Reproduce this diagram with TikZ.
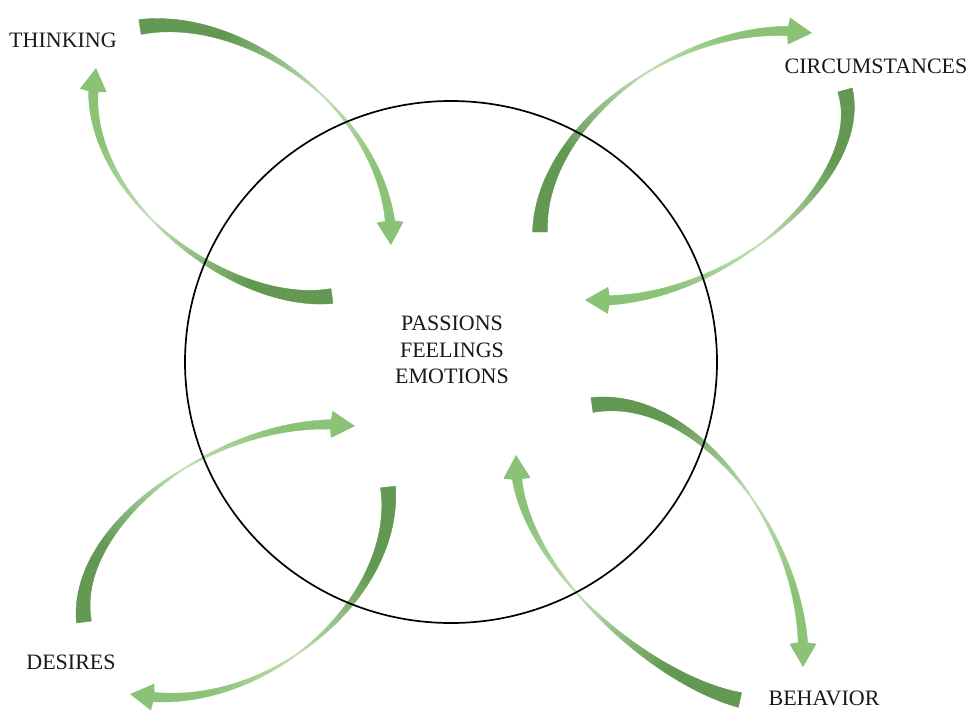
\documentclass[tikz,border=0pt]{standalone}
\usepackage{fontspec}
\setmainfont{Liberation Serif}
\usetikzlibrary{calc,shapes.geometric}
\definecolor{gdark}{RGB}{98,152,82}
\definecolor{glight}{RGB}{138,194,118}
\definecolor{gpale}{RGB}{192,224,178}
% tapered curved arrow: #1..#8 = x0 y0 x1 y1 x2 y2 x3 y3 (pixel units, y down)
\newcommand\taperarrow[8]{%
  \pgfmathsetmacro\te{1-23/(3*veclen(#7-#5,#8-#6))}%
  \foreach \i in {0,...,60}{%
    \pgfmathsetmacro\t{\te*\i/60}%
    \pgfmathsetmacro\u{1-\t}%
    \pgfmathsetmacro\bx{\u*\u*\u*#1+3*\u*\u*\t*#3+3*\u*\t*\t*#5+\t*\t*\t*#7}%
    \pgfmathsetmacro\by{\u*\u*\u*#2+3*\u*\u*\t*#4+3*\u*\t*\t*#6+\t*\t*\t*#8}%
    \pgfmathsetmacro\dx{3*\u*\u*(#3-#1)+6*\u*\t*(#5-#3)+3*\t*\t*(#7-#5)}%
    \pgfmathsetmacro\dy{3*\u*\u*(#4-#2)+6*\u*\t*(#6-#4)+3*\t*\t*(#8-#6)}%
    \pgfmathsetmacro\dl{veclen(\dx,\dy)}%
    \pgfmathsetmacro\w{max(15-13.8*\t/0.55,1.2+8.3*(\t-0.55)/(\te-0.55))}%
    \coordinate (L\i) at ({\bx-\dy/\dl*\w/2},{\by+\dx/\dl*\w/2});
    \coordinate (R\i) at ({\bx+\dy/\dl*\w/2},{\by-\dx/\dl*\w/2});
    \coordinate (C\i) at (\bx,\by);
  }%
  \foreach \i [evaluate=\i as \j using int(\i+1)] in {0,...,59}{%
    \pgfmathsetmacro\t{\te*(\i+0.5)/60}%
    \pgfmathsetmacro\pa{ifthenelse(\t<0.55,100,0)}%
    \pgfmathsetmacro\pc{100*max(max(0,min(1,(0.55-\t)/0.3)),max(0,min(1,(\t-0.55)/0.25)))}%
    \fill[fill=gdark!\pa!glight!\pc!gpale, draw=gdark!\pa!glight!\pc!gpale, line width=0.4pt]
      (L\i) -- (L\j) -- (R\j) -- (R\i) -- cycle;
  }%
  \coordinate (T) at (#7,#8);
  \fill[glight] ($(C60)!13.5pt!90:(T)$) -- (T) -- ($(C60)!13.5pt!-90:(T)$) -- ($(C60)!-2pt!(T)$) -- cycle;
}
\begin{document}
\begin{tikzpicture}[x=1pt,y=-1pt,
  lbl/.style={font=\fontsize{22}{26.5}\selectfont, inner sep=0pt, align=center, text=black!90}]
\useasboundingbox (0,0) rectangle (976,715);
\fill[white] (0,0) rectangle (976,715);

% arrows
\taperarrow{140}{27}{250}{10}{395}{120}{391}{245}
\taperarrow{332}{296}{230}{310}{70}{190}{96}{68}
\taperarrow{540}{232}{540}{120}{690}{15}{812}{33}
\taperarrow{845}{90}{870}{180}{720}{310}{585}{300}
\taperarrow{84}{622}{70}{520}{230}{410}{355}{426}
\taperarrow{388}{487}{400}{600}{260}{720}{130}{694}
\taperarrow{592}{405}{700}{390}{810}{540}{803}{667}
\taperarrow{740}{700}{650}{680}{510}{560}{516}{455}

% circle
\node[draw=black, line width=1.7pt, ellipse, minimum width=532pt, minimum height=522pt, inner sep=0pt] (circ) at (451,362) {};

% labels
\node[lbl] (center) at (452,350) {PASSIONS\\FEELINGS\\EMOTIONS};
\node[lbl] (thinking) at (63,40) {THINKING};
\node[lbl] (circum) at (876,66) {CIRCUMSTANCES};
\node[lbl] (desires) at (71,662) {DESIRES};
\node[lbl] (behavior) at (824,698) {BEHAVIOR};
\end{tikzpicture}
\end{document}
